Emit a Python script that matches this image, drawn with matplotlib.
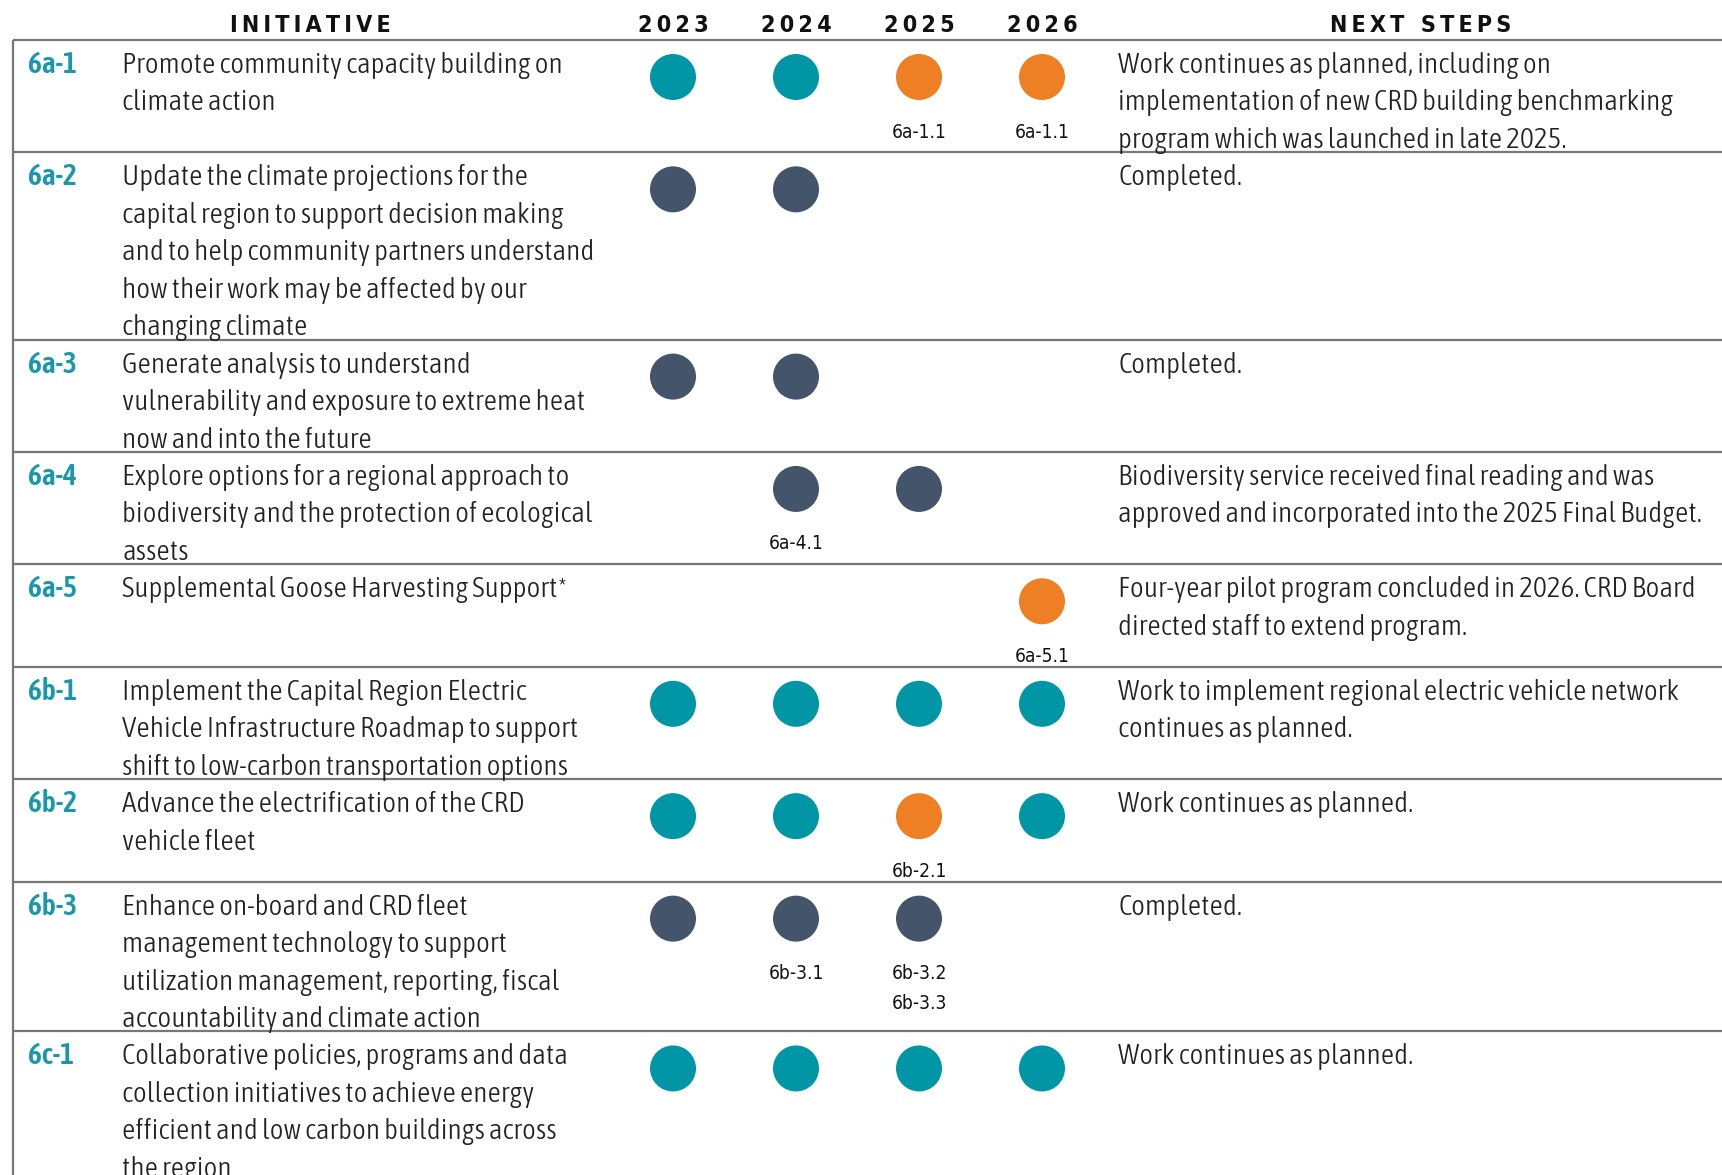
import matplotlib
matplotlib.use("Agg")
import matplotlib.pyplot as plt
from matplotlib.patches import Circle
from matplotlib import font_manager
from matplotlib.font_manager import FontProperties

# ---- data ----
years = ["2023", "2024", "2025", "2026"]

ids = ["6a-1", "6a-2", "6a-3", "6a-4", "6a-5", "6b-1", "6b-2", "6b-3", "6c-1"]

descriptions = [
    "Promote community capacity building on\nclimate action",
    "Update the climate projections for the\ncapital region to support decision making\n"
    "and to help community partners understand\nhow their work may be affected by our\nchanging climate",
    "Generate analysis to understand\nvulnerability and exposure to extreme heat\nnow and into the future",
    "Explore options for a regional approach to\nbiodiversity and the protection of ecological\nassets",
    "Supplemental Goose Harvesting Support",
    "Implement the Capital Region Electric\nVehicle Infrastructure Roadmap to support\nshift to low-carbon transportation options",
    "Advance the electrification of the CRD\nvehicle fleet",
    "Enhance on-board and CRD fleet\nmanagement technology to support\nutilization management, reporting, fiscal\n"
    "accountability and climate action",
    "Collaborative policies, programs and data\ncollection initiatives to achieve energy\n"
    "efficient and low carbon buildings across\nthe region",
]

footnote_mark = [False, False, False, False, True, False, False, False, False]

# status per year: "on" = teal, "delay" = orange, "done" = dark slate, "" = nothing
status = [
    ["on", "on", "delay", "delay"],
    ["done", "done", "", ""],
    ["done", "done", "", ""],
    ["", "done", "done", ""],
    ["", "", "", "delay"],
    ["on", "on", "on", "on"],
    ["on", "on", "delay", "on"],
    ["done", "done", "done", ""],
    ["on", "on", "on", "on"],
]

sub_labels = [
    ["", "", "6a-1.1", "6a-1.1"],
    ["", "", "", ""],
    ["", "", "", ""],
    ["", "6a-4.1", "", ""],
    ["", "", "", "6a-5.1"],
    ["", "", "", ""],
    ["", "", "6b-2.1", ""],
    ["", "6b-3.1", "6b-3.2\n6b-3.3", ""],
    ["", "", "", ""],
]

next_steps = [
    "Work continues as planned, including on\nimplementation of new CRD building benchmarking\n"
    "program which was launched in late 2025.",
    "Completed.",
    "Completed.",
    "Biodiversity service received final reading and was\napproved and incorporated into the 2025 Final Budget.",
    "Four-year pilot program concluded in 2026. CRD Board\ndirected staff to extend program.",
    "Work to implement regional electric vehicle network\ncontinues as planned.",
    "Work continues as planned.",
    "Completed.",
    "Work continues as planned.",
]

status_colors = {"on": "#0096A6", "delay": "#EF7F24", "done": "#44546A"}
id_color = "#1A98AB"
text_color = "#222222"
rule_color = "#777777"

# ---- fonts: prefer a condensed, upright sans if one is installed ----
def wnum(w):
    if isinstance(w, str):
        return font_manager.weight_dict.get(w, 400)
    return w

def pick_font(weights, stretches=("condensed", "semi-condensed", "extra-condensed")):
    for st in stretches:
        for w in weights:
            for f in font_manager.fontManager.ttflist:
                if (f.stretch == st and wnum(f.weight) == w and f.style == "normal"
                        and "Mono" not in f.name and "Serif" not in f.name):
                    return FontProperties(fname=f.fname)
    return None

body_fp = pick_font([300, 400]) or FontProperties(family="Lato", weight="light")
sub_fp = pick_font([400]) or FontProperties(family="Lato", weight="normal")
id_fp = pick_font([600, 500, 700]) or FontProperties(family="Lato", weight="bold")
head_fp = pick_font([700, 600]) or FontProperties(family="Lato", weight="bold")

fig = plt.figure(figsize=(17.22, 11.75), dpi=100)
ax = fig.add_axes([0, 0, 1, 1])
ax.set_xlim(0, 1722)
ax.set_ylim(1175, 0)
ax.set_aspect("equal")
ax.axis("off")
renderer = fig.canvas.get_renderer()

def fit_size(text, fp, target_w, base=18):
    t = ax.text(0, 0, text, fontproperties=fp, fontsize=base)
    w = t.get_window_extent(renderer).width
    t.remove()
    return base * target_w / w

body_size = fit_size("Promote community capacity building on", body_fp, 441)
sub_size = fit_size("6a-1.1", sub_fp, 55)
id_size = fit_size("6a-1", id_fp, 49)

# ---- layout (pixels) ----
left_x = 13
id_x = 28
desc_x = 122
year_x = [673, 796, 919, 1042]
next_x = 1118
top = 40
line_h = 37.45

# header
def spaced(s):
    return "\u2009".join(s).replace("\u2009 \u2009", "\u2009\u2009\u2009\u2009")

head_size = fit_size(spaced("2023"), head_fp, 71, base=16)
for label, cx in [("INITIATIVE", 310), ("NEXT STEPS", 1421)] + list(zip(years, year_x)):
    ax.text(cx, 25, spaced(label), fontproperties=head_fp, fontsize=head_size,
            ha="center", va="center", color="#111111")

ax.plot([left_x, 1722], [top, top], color=rule_color, lw=1.6, solid_capstyle="butt")
ax.plot([left_x, left_x], [top, 1175], color=rule_color, lw=1.6, solid_capstyle="butt")

y = top
for i in range(len(ids)):
    d_lines = descriptions[i].split("\n")
    n_lines = max(len(d_lines), len(next_steps[i].split("\n")))
    h = n_lines * line_h
    if any(sub_labels[i]):
        h = max(h, 102.5)

    ax.text(id_x, y + 33, ids[i], fontproperties=id_fp, fontsize=id_size,
            color=id_color, va="baseline", ha="left")

    for k, line in enumerate(d_lines):
        t = ax.text(desc_x, y + 33 + k * line_h, line, fontproperties=body_fp,
                    fontsize=body_size, color=text_color, va="baseline", ha="left")
        if footnote_mark[i] and k == len(d_lines) - 1:
            ax.annotate("*", xy=(1, 1), xycoords=t, xytext=(1, 0), textcoords="offset points",
                        fontproperties=body_fp, fontsize=body_size * 0.8,
                        color=text_color, ha="left", va="top")

    for k, line in enumerate(next_steps[i].split("\n")):
        ax.text(next_x, y + 33 + k * line_h, line, fontproperties=body_fp,
                fontsize=body_size, color=text_color, va="baseline", ha="left")

    for j, st in enumerate(status[i]):
        if st:
            ax.add_patch(Circle((year_x[j], y + 37), 23, color=status_colors[st], lw=0))
        if sub_labels[i][j]:
            for k, s in enumerate(sub_labels[i][j].split("\n")):
                ax.text(year_x[j], y + 97.5 + k * 29.5, s, fontproperties=sub_fp,
                        fontsize=sub_size, color="#111111", ha="center", va="baseline")

    y += h
    ax.plot([left_x, 1722], [y, y], color=rule_color, lw=1.6, solid_capstyle="butt")

fig.savefig("out.png", dpi=100)
